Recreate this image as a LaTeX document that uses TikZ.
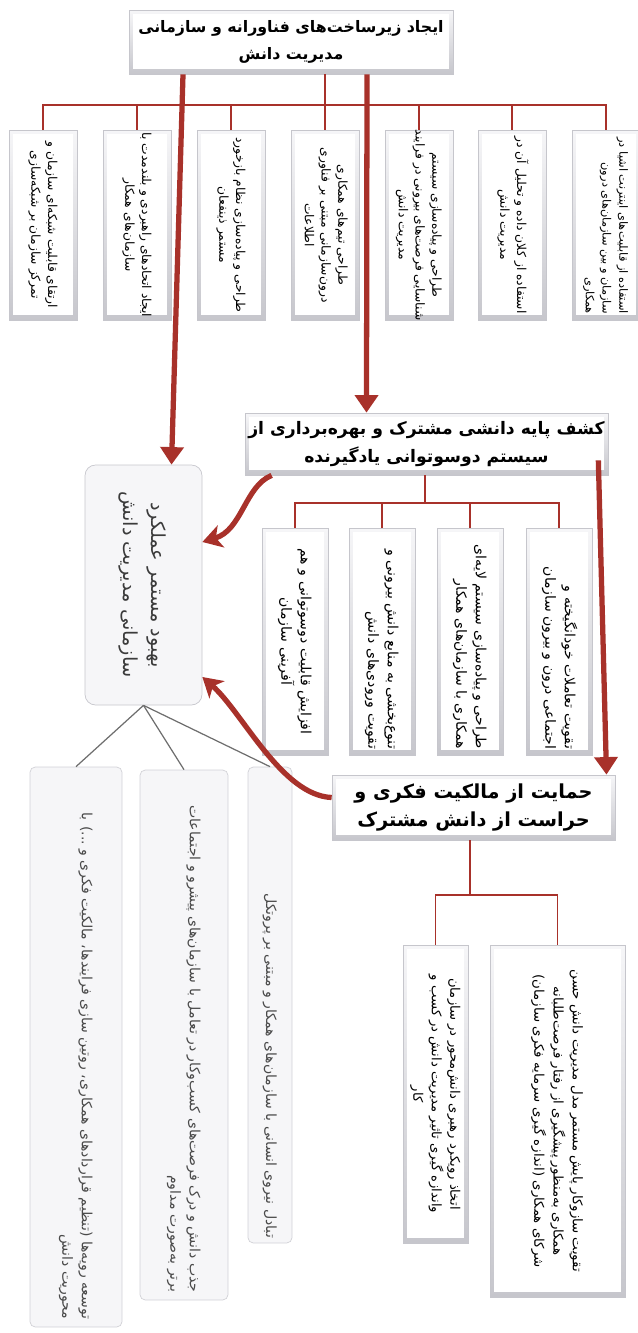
\documentclass[tikz,border=0pt]{standalone}
\usepackage{fontspec}
\usepackage{graphicx}
\setmainfont[Script=Arabic]{DejaVu Sans}
\TeXXeTstate=1
\usetikzlibrary{arrows.meta, positioning, calc, shadows}
\definecolor{DeepRed}{HTML}{A8312A}
\definecolor{BevelGray}{HTML}{C6C6CC}
\definecolor{FaceGray}{HTML}{F6F6F8}
\definecolor{LineGray}{HTML}{6E6E6E}
\definecolor{SoftText}{HTML}{4A4A4A}

% one pixel of the layout grid
\newdimen\pxu \pxu=0.02cm
\newcommand{\rtltext}[1]{\beginR #1\endR}
\newcommand{\turnlines}[3][c]{\rotatebox{-90}{\makebox[#2][#1]{\begin{tabular}{@{}#1@{}}#3\end{tabular}}}}

\tikzset{
  bevelbox/.style={draw=BevelGray, top color=FaceGray, bottom color=BevelGray, inner sep=0pt,
    drop shadow={shadow xshift=0.8pt, shadow yshift=-0.8pt, opacity=0.2},
    path picture={\fill[white] ([shift={(2.2pt,-2pt)}]path picture bounding box.north west)
      rectangle ([shift={(-2.2pt,3pt)}]path picture bounding box.south east);}},
  headbox/.style={bevelbox, align=center, font=\bfseries\fontsize{11}{16}\selectfont},
  slatbox/.style={bevelbox, font=\fontsize{7}{9.5}\selectfont},
  goalbox/.style={draw=BevelGray, rounded corners=6pt, fill=FaceGray, inner sep=0pt,
    font=\fontsize{11}{16}\selectfont, text=SoftText!80!black},
  softbox/.style={draw=BevelGray!80, rounded corners=3pt, fill=FaceGray, inner sep=0pt,
    font=\fontsize{8}{11}\selectfont, text=SoftText},
  treeline/.style={DeepRed, line width=1pt},
  fanline/.style={LineGray, line width=0.7pt},
  bigarrow/.style={DeepRed, line width=3pt, -{Triangle[length=10pt, width=13pt]}},
  bendarrow/.style={DeepRed, line width=3pt, -{Stealth[length=11pt, width=13pt, inset=3pt]}}
}

\begin{document}
\begin{tikzpicture}[x=0.02cm, y=-0.02cm]
\useasboundingbox (0,0) rectangle (638,1333);

% level 1: infrastructure
\node[headbox, minimum width=324\pxu, minimum height=64\pxu, font=\bfseries\fontsize{9}{15}\selectfont] (infra) at (291,42)
  {\rtltext{ایجاد زیرساخت‌های فناورانه و سازمانی}\\ \rtltext{مدیریت دانش}};

\node[slatbox, minimum width=68\pxu, minimum height=190\pxu, font=\fontsize{6.5}{9.5}\selectfont] (iot) at (606,225)
  {\turnlines[r]{178\pxu}{\rtltext{استفاده از قابلیت‌های اینترنت اشیا در}\\ \rtltext{سازمان و بین سازمان‌های درون}\\ \rtltext{همکاری}}};
\node[slatbox, minimum width=68\pxu, minimum height=190\pxu] (bigdata) at (512,225)
  {\turnlines{178\pxu}{\rtltext{استفاده از کلان داده و تحلیل آن در}\\ \rtltext{مدیریت دانش}}};
\node[slatbox, minimum width=68\pxu, minimum height=190\pxu] (extopp) at (419,225)
  {\turnlines{178\pxu}{\rtltext{طراحی و پیاده‌سازی سیستم}\\ \rtltext{شناسایی فرصت‌های بیرونی در فرایند}\\ \rtltext{مدیریت دانش}}};
\node[slatbox, minimum width=68\pxu, minimum height=190\pxu] (teams) at (325,225)
  {\turnlines{178\pxu}{\rtltext{طراحی تیم‌های همکاری}\\ \rtltext{درون‌سازمانی مبتنی بر فناوری}\\ \rtltext{اطلاعات}}};
\node[slatbox, minimum width=68\pxu, minimum height=190\pxu] (feedback) at (231,225)
  {\turnlines{178\pxu}{\rtltext{طراحی و پیاده‌سازی نظام بازخورد}\\ \rtltext{مستمر ذینفعان}}};
\node[slatbox, minimum width=68\pxu, minimum height=190\pxu] (alliance) at (137,225)
  {\turnlines{178\pxu}{\rtltext{ایجاد اتحادهای راهبردی و بلندمدت با}\\ \rtltext{سازمان‌های همکار}}};
\node[slatbox, minimum width=68\pxu, minimum height=190\pxu] (network) at (43,225)
  {\turnlines{178\pxu}{\rtltext{ارتقای قابلیت شبکه‌ای سازمان و}\\ \rtltext{تمرکز سازمان بر شبکه‌سازی}}};

\coordinate (bus1) at (325,105);
\draw[treeline] (infra.south -| teams) -- (teams.north);
\draw[treeline] (network.north) |- (bus1) -| (iot.north);
\foreach \n in {alliance, feedback, extopp, bigdata}
  \draw[treeline] (\n.north) -- (\n.north |- bus1);

% level 2: shared knowledge base
\node[headbox, minimum width=363\pxu, minimum height=62\pxu, font=\bfseries\fontsize{9.8}{16}\selectfont] (shared) at (426.5,444)
  {\rtltext{کشف پایه دانشی مشترک و بهره‌برداری از}\\ \rtltext{سیستم دوسوتوانی یادگیرنده}};

\node[slatbox, minimum width=66\pxu, minimum height=227\pxu, font=\fontsize{8}{11}\selectfont] (social) at (559,641.5)
  {\turnlines[r]{215\pxu}{\rtltext{تقویت تعاملات خودانگیخته و}\\ \rtltext{اجتماعی درون و بیرون سازمان}}};
\node[slatbox, minimum width=66\pxu, minimum height=227\pxu, font=\fontsize{8}{11}\selectfont] (layered) at (470,641.5)
  {\turnlines[r]{215\pxu}{\rtltext{طراحی و پیاده‌سازی سیستم لایه‌ای}\\ \rtltext{همکاری با سازمان‌های همکار}}};
\node[slatbox, minimum width=66\pxu, minimum height=227\pxu, font=\fontsize{8}{11}\selectfont] (diverse) at (382,641.5)
  {\turnlines[r]{215\pxu}{\rtltext{تنوع‌بخشی به منابع دانش بیرونی و}\\ \rtltext{تقویت ورودی‌های دانش}}};
\node[slatbox, minimum width=66\pxu, minimum height=227\pxu, font=\fontsize{8}{11}\selectfont] (cocreate) at (295,641.5)
  {\turnlines{215\pxu}{\rtltext{افزایش قابلیت دوسوتوانی و هم}\\ \rtltext{آفرینی سازمان}}};

\coordinate (bus2) at (425,503);
\draw[treeline] (shared.south -| bus2) -- (bus2);
\draw[treeline] (cocreate.north) |- (bus2) -| (social.north);
\foreach \n in {diverse, layered}
  \draw[treeline] (\n.north) -- (\n.north |- bus2);

% goal
\node[goalbox, minimum width=117\pxu, minimum height=240\pxu] (goal) at (143.5,585)
  {\turnlines{220\pxu}{\rtltext{بهبود مستمر عملکرد}\\ \rtltext{سازمانی مدیریت دانش}}};

% level 3: intellectual property
\node[headbox, minimum width=283\pxu, minimum height=65\pxu] (ipr) at (473.5,807.5)
  {\rtltext{حمایت از مالکیت فکری و}\\ \rtltext{حراست از دانش مشترک}};

\node[slatbox, minimum width=135\pxu, minimum height=352\pxu, font=\fontsize{7.6}{11}\selectfont] (monitor) at (557.5,1121)
  {\turnlines{340\pxu}{\rtltext{تقویت سازوکار پایش مستمر مدل مدیریت دانش حسن}\\ \rtltext{همکاری به‌منظور پیشگیری از رفتار فرصت‌طلبانه}\\ \rtltext{شرکای همکاری (اندازه گیری سرمایه فکری سازمان)}}};
\node[slatbox, minimum width=65\pxu, minimum height=298\pxu, font=\fontsize{7.5}{10.5}\selectfont] (leader) at (435.5,1094)
  {\turnlines{285\pxu}{\rtltext{اتخاذ رویکرد رهبری دانش‌محور در سازمان}\\ \rtltext{واندازه گیری تاثیر مدیریت دانش در کسب و}\\ \rtltext{کار}}};

\coordinate (bus3) at (470,895);
\draw[treeline] (ipr.south -| bus3) -- (bus3);
\draw[treeline] (leader.north) |- (bus3) -| (monitor.north);

% outcomes below the goal
\node[softbox, minimum width=44\pxu, minimum height=476\pxu] (exchange) at (270,1005)
  {\turnlines[r]{466\pxu}{\rtltext{تبادل نیروی انسانی با سازمان‌های همکار و مبتنی بر پروتکل}}};
\node[softbox, minimum width=88\pxu, minimum height=530\pxu] (absorb) at (184,1035)
  {\turnlines[r]{515\pxu}{\rtltext{جذب دانش و درک فرصت‌های کسب‌وکار در تعامل با سازمان‌های پیشرو و اجتماعات}\\ \rtltext{برتر به‌صورت مداوم}}};
\node[softbox, minimum width=92\pxu, minimum height=560\pxu] (routines) at (76,1047)
  {\turnlines[r]{545\pxu}{\rtltext{توسعه رویه‌ها (تنظیم قراردادهای همکاری، روتین سازی فرایندها، مالکیت فکری و ...) با}\\ \rtltext{محوریت دانش}}};

\foreach \n in {exchange, absorb, routines}
  \draw[fanline] (goal.south) -- (\n.north);

% main red flows
\draw[bigarrow] ([xshift=-108\pxu]infra.south) -- ([xshift=28\pxu]goal.north);
\draw[bigarrow] ([xshift=76\pxu]infra.south) -- ([xshift=-60\pxu]shared.north);
\draw[bigarrow] ([xshift=-10\pxu,yshift=15\pxu]shared.south east) -- ([xshift=133\pxu]ipr.north);
\draw[bendarrow] ([xshift=27\pxu]shared.south west) .. controls +(-27,11) and +(40,-12) .. ([yshift=43\pxu]goal.east);
\draw[bendarrow] ([yshift=10\pxu]ipr.west) .. controls +(-50,-2) and +(40,35) .. ([yshift=-92\pxu]goal.east);
\end{tikzpicture}
\end{document}
